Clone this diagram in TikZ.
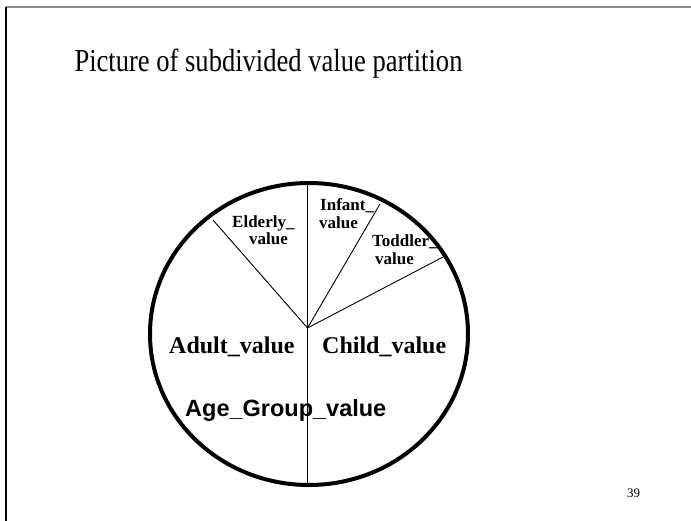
\documentclass[tikz,border=0pt]{standalone}
\usepackage{graphicx}
\usepackage{fontspec}
\setmainfont{Liberation Serif}
\newfontfamily\arialfont{Liberation Sans}
\usetikzlibrary{shapes.geometric}
\begin{document}
\begin{tikzpicture}[x=1pt,y=-1pt,
  lbl/.style={inner sep=0pt, anchor=base west, font=\fontsize{17}{18}\selectfont\bfseries},
  biglbl/.style={inner sep=0pt, anchor=base west, font=\fontsize{24}{28}\selectfont\bfseries},
  spoke/.style={line width=0.9pt},
  axis/.style={line width=1.5pt}]
\useasboundingbox (0,0) rectangle (691,521);
% slide frame
\draw[line width=2pt, gray!90] (6,7) -- (691,7);
\draw[line width=1.5pt, black] (6,7) -- (6,521);
% title
\node[inner sep=0pt, anchor=base] (title) at (268.5,72)
  {\scalebox{0.83}[1]{\fontsize{32}{38}\selectfont Picture of subdivided value partition}};
% circle
\node[draw, ellipse, line width=4pt, inner sep=0pt, minimum width=318pt, minimum height=302pt] (circ) at (309,334) {};
\coordinate (c) at (307.5,328);
\coordinate (top) at (307.5,183);
\coordinate (bot) at (307.5,485);
\coordinate (eld) at (213,220);
\coordinate (inf) at (380,204);
\coordinate (tod) at (443,257);
\draw[axis] (top) -- (bot);
\draw[spoke] (c) -- (eld);
\draw[spoke] (c) -- (inf);
\draw[spoke] (c) -- (tod);
% small labels
\node[lbl] (e1) at (232,228) {Elderly\_};
\node[lbl] (e2) at (249,245) {value};
\node[lbl] (i1) at (320,211) {Infant\_};
\node[lbl] (i2) at (319,229) {value};
\node[lbl] (t1) at (372,247) {Toddler\_};
\node[lbl] (t2) at (375,265) {value};
% big labels
\node[biglbl] (adult) at (169,353) {Adult\_value};
\node[biglbl] (child) at (322,353) {Child\_value};
\node[inner sep=0pt, anchor=base west, font=\arialfont\fontsize{23.5}{28}\selectfont\bfseries] (age) at (185,416) {Age\_Group\_value};
% page number
\node[inner sep=0pt, anchor=base west, font=\fontsize{13}{15}\selectfont] (pg) at (627,497) {39};
\end{tikzpicture}
\end{document}
